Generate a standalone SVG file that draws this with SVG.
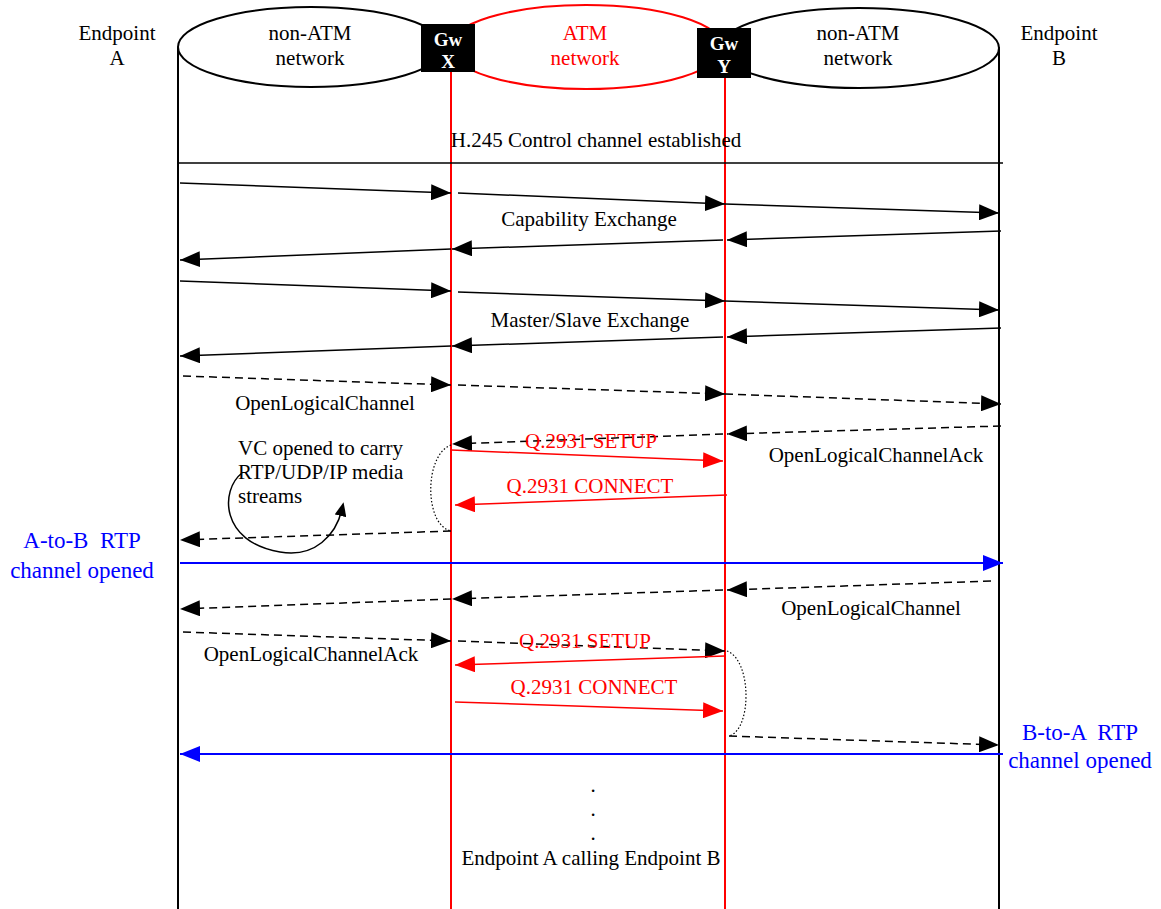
<svg xmlns="http://www.w3.org/2000/svg" width="1161" height="909" viewBox="0 0 1161 909">
<style>
text{font-family:"Liberation Serif","Times New Roman",serif;font-size:21px;fill:#000}
.m{text-anchor:middle}
.r{fill:#ff0000}
.b{fill:#0000ff;font-size:23px}
.gw{fill:#fff;font-weight:bold;font-size:19px;text-anchor:middle}
.life{stroke:#000;stroke-width:2;fill:none}
.rl{stroke:#ff0000;stroke-width:2;fill:none}
.s{stroke:#000;stroke-width:1.5;fill:none;marker-end:url(#ah)}
.sn{stroke:#000;stroke-width:1.5;fill:none}
.d{stroke:#000;stroke-width:1.5;fill:none;stroke-dasharray:8,5;marker-end:url(#ah)}
.red{stroke:#ff0000;stroke-width:1.5;fill:none;marker-end:url(#ahr)}
.blue{stroke:#0000ff;stroke-width:2;fill:none;marker-end:url(#ahb)}
.dot{stroke:#000;stroke-width:1.2;fill:none;stroke-dasharray:1.5,2}
</style>
<defs>
<marker id="ah" markerWidth="20" markerHeight="16" refX="20" refY="8" orient="auto" markerUnits="userSpaceOnUse"><path d="M0,0 L20,8 L0,16 z" fill="#000"/></marker>
<marker id="ahr" markerWidth="20" markerHeight="16" refX="20" refY="8" orient="auto" markerUnits="userSpaceOnUse"><path d="M0,0 L20,8 L0,16 z" fill="#ff0000"/></marker>
<marker id="ahb" markerWidth="20" markerHeight="16" refX="20" refY="8" orient="auto" markerUnits="userSpaceOnUse"><path d="M0,0 L20,8 L0,16 z" fill="#0000ff"/></marker>
<marker id="ahs" markerWidth="14" markerHeight="12" refX="7" refY="6" orient="auto" markerUnits="userSpaceOnUse"><path d="M0,0 L14,6 L0,12 z" fill="#000"/></marker>
</defs>

<g id="endpointA">
<text class="m" x="117" y="40">Endpoint</text>
<text class="m" x="117" y="65">A</text>
<line class="life" x1="178" y1="47" x2="178" y2="909"/>
</g>
<g id="endpointB">
<text class="m" x="1059" y="40">Endpoint</text>
<text class="m" x="1059" y="65">B</text>
<line class="life" x1="999" y1="47" x2="999" y2="909"/>
</g>
<g id="netLeft">
<ellipse cx="311" cy="47" rx="133" ry="40" fill="#fff" stroke="#000" stroke-width="2"/>
<text class="m" x="310" y="40">non-ATM</text>
<text class="m" x="310" y="65">network</text>
</g>
<g id="netRight">
<ellipse cx="859" cy="48" rx="140" ry="40" fill="#fff" stroke="#000" stroke-width="2"/>
<text class="m" x="858" y="40">non-ATM</text>
<text class="m" x="858" y="65">network</text>
</g>
<g id="netATM">
<ellipse cx="586" cy="47" rx="137" ry="42" fill="#fff" stroke="#ff0000" stroke-width="2"/>
<text class="m r" x="585" y="40">ATM</text>
<text class="m r" x="585" y="65">network</text>
</g>
<g id="gwX">
<line class="rl" x1="451" y1="72" x2="451" y2="909"/>
<rect x="421" y="24" width="54" height="48" fill="#000"/>
<text class="gw" x="448" y="46">Gw</text>
<text class="gw" x="448" y="68">X</text>
</g>
<g id="gwY">
<line class="rl" x1="725" y1="78" x2="725" y2="909"/>
<rect x="697" y="28" width="54" height="50" fill="#000"/>
<text class="gw" x="724" y="50">Gw</text>
<text class="gw" x="724" y="73">Y</text>
</g>

<g id="connectors">
<line class="sn" x1="178" y1="163" x2="1003" y2="163"/>
<path class="s" d="M180,183 L451,193"/>
<path class="s" d="M458,193 L725,204"/>
<path class="s" d="M725,204 L999,213"/>
<path class="s" d="M1001,231 L727,240"/>
<path class="s" d="M723,240 L452,249"/>
<path class="s" d="M451,249 L180,260"/>
<path class="s" d="M180,281 L451,291"/>
<path class="s" d="M458,292 L725,301"/>
<path class="s" d="M725,301 L999,310"/>
<path class="s" d="M1001,328 L727,337"/>
<path class="s" d="M723,337 L452,346"/>
<path class="s" d="M451,346 L180,356"/>
<path class="d" d="M183,376 L451,385"/>
<path class="d" d="M458,385 L725,394"/>
<path class="d" d="M725,394 L1001,404"/>
<path class="d" d="M1001,426 L727,434"/>
<path class="d" d="M723,434 L452,444"/>
<path class="red" d="M451,450 L723,461"/>
<path class="red" d="M727,495 L455,505"/>
<path class="dot" d="M451,445 C424,455 424,525 451,531"/>
<path class="d" d="M451,531 L180,540"/>
<path class="sn" style="marker-end:url(#ahs)" d="M242,473 C220,490 220,542 280,552 C315,558 336,535 342,509"/>
<path class="blue" d="M180,563 L1003,563"/>
<path class="d" d="M991,581 L727,590"/>
<path class="d" d="M723,590 L452,599"/>
<path class="d" d="M451,599 L180,609"/>
<path class="d" d="M183,632 L451,641"/>
<path class="d" d="M458,641 L725,651"/>
<path class="red" d="M725,656 L455,665"/>
<path class="red" d="M455,702 L723,711"/>
<path class="dot" d="M727,651 C752,660 752,730 729,736"/>
<path class="d" d="M729,736 L999,745"/>
<path class="blue" d="M1003,754 L180,754"/>
</g>

<g id="labels">
<text class="m" x="596" y="147">H.245 Control channel established</text>
<text class="m" x="589" y="226">Capability Exchange</text>
<text class="m" x="590" y="327">Master/Slave Exchange</text>
<text class="m" x="325" y="410">OpenLogicalChannel</text>
<text class="m r" x="591" y="448">Q.2931 SETUP</text>
<text class="m" x="876" y="462">OpenLogicalChannelAck</text>
<text class="m r" x="590" y="493">Q.2931 CONNECT</text>
<text x="238" y="455">VC opened to carry</text>
<text x="238" y="479">RTP/UDP/IP media</text>
<text x="238" y="503">streams</text>
<text class="m b" x="82" y="548" xml:space="preserve">A-to-B  RTP</text>
<text class="m b" x="82" y="578">channel opened</text>
<text class="m" x="871" y="615">OpenLogicalChannel</text>
<text class="m" x="311" y="661">OpenLogicalChannelAck</text>
<text class="m r" x="585" y="648">Q.2931 SETUP</text>
<text class="m r" x="594" y="694">Q.2931 CONNECT</text>
<text class="m b" x="1080" y="740" xml:space="preserve">B-to-A  RTP</text>
<text class="m b" x="1080" y="768">channel opened</text>
<text class="m" x="593" y="792">.</text>
<text class="m" x="593" y="816">.</text>
<text class="m" x="593" y="840">.</text>
<text class="m" x="591" y="865">Endpoint A calling Endpoint B</text>
</g>
</svg>
